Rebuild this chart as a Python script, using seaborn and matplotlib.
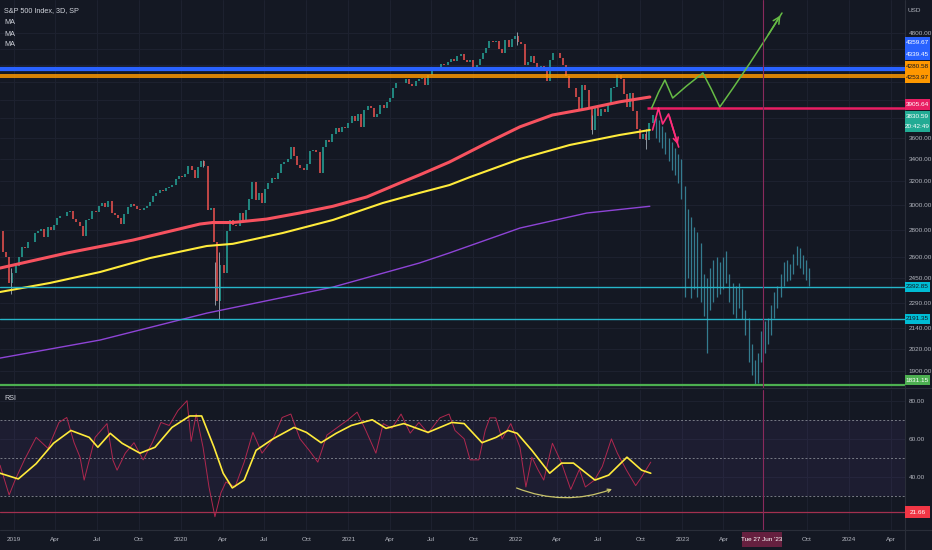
import numpy as np
import pandas as pd
import matplotlib
matplotlib.use("Agg")
import matplotlib.pyplot as plt
from matplotlib.patches import Rectangle
from matplotlib.ticker import FixedLocator, FixedFormatter, NullLocator
import seaborn as sns

# -------------------------------
# Data
# -------------------------------
# weekly closes (Fridays) from 2018-12-07 to 2022-10-28
first_open = 2790
closes_2018 = [2633, 2600, 2417, 2486]
closes_2019 = [2532, 2596, 2671, 2665, 2707, 2708, 2776, 2793, 2804, 2743, 2822, 2801, 2834,
               2893, 2907, 2905, 2940, 2946, 2881, 2860, 2826, 2752, 2873, 2887, 2950, 2942,
               2990, 3014, 2977, 3026, 2932, 2919, 2889, 2847, 2926, 2979, 3007, 2992, 2962,
               2952, 2970, 2986, 3023, 3067, 3093, 3120, 3110, 3141, 3146, 3169, 3221, 3240]
closes_2020 = [3235, 3265, 3330, 3295, 3226, 3328, 3380, 3338, 2954, 2972, 2711, 2305, 2541,
               2489, 2790, 2875, 2837, 2831, 2930, 2864, 2955, 3044, 3194, 3041, 3098, 3009,
               3130, 3185, 3225, 3216, 3271, 3351, 3373, 3397, 3508, 3427, 3341, 3319, 3298,
               3348, 3477, 3484, 3465, 3270, 3510, 3585, 3558, 3638, 3699, 3663, 3709, 3703]
closes_2021 = [3756, 3825, 3768, 3841, 3714, 3887, 3934, 3907, 3811, 3842, 3943, 3913, 3975,
               4020, 4129, 4185, 4180, 4181, 4233, 4174, 4156, 4204, 4230, 4247, 4166, 4281,
               4352, 4370, 4327, 4412, 4395, 4437, 4468, 4442, 4509, 4535, 4459, 4433, 4455,
               4357, 4391, 4471, 4545, 4605, 4697, 4683, 4698, 4595, 4538, 4712, 4620, 4725, 4766]
closes_2022 = [4677, 4663, 4398, 4432, 4501, 4419, 4349, 4385, 4329, 4204, 4463, 4543, 4546,
               4488, 4393, 4272, 4132, 4123, 4024, 3901, 4158, 4109, 3901, 3675, 3912, 3825,
               3899, 3863, 3962, 4130, 4145, 4280, 4228, 4058, 3924, 4067, 3873, 3693, 3586,
               3640, 3583, 3753, 3831]

# notable wicks
wick_dates = ["2018-12-26", "2020-02-19", "2020-03-23", "2020-03-16", "2022-01-04", "2022-06-17", "2022-10-13"]
wick_low = [2346, 3328, 2192, 2280, 4650, 3637, 3491]
wick_high = [2520, 3394, 2637, 2562, 4818, 3838, 3685]

# projected bars pattern (weekly high/low)
proj_start = "2022-11-04"
proj_high = [3800, 3780, 3720, 3660, 3600, 3560, 3500, 3450, 3400, 3160, 2960, 2900, 2820, 2780,
             2700, 2480, 2450, 2520, 2580, 2600, 2560, 2600, 2640, 2480, 2420, 2400, 2420, 2380,
             2250, 2200, 2050, 1960, 2000, 2120, 2180, 2200, 2280, 2360, 2400, 2480, 2560, 2580,
             2550, 2620, 2680, 2660, 2610, 2580, 2520]
proj_low = [3600, 3560, 3500, 3450, 3380, 3300, 3250, 3180, 3050, 2330, 2450, 2320, 2380, 2330,
            2300, 2210, 2000, 2250, 2300, 2330, 2350, 2380, 2420, 2300, 2220, 2200, 2260, 2190,
            2100, 1950, 1880, 1832, 1840, 1950, 2000, 2050, 2100, 2200, 2260, 2330, 2400, 2430,
            2440, 2480, 2540, 2520, 2480, 2440, 2400]

# moving averages
red_ma_dates = ["2018-12-01", "2019-04-26", "2019-09-18", "2020-02-11", "2020-03-10", "2020-04-23",
                "2020-07-06", "2020-09-16", "2020-11-28", "2021-02-10", "2021-04-23", "2021-06-05",
                "2021-08-10", "2021-10-31", "2022-01-11", "2022-03-23", "2022-06-06", "2022-08-17",
                "2022-10-22"]
red_ma = [2521, 2627, 2722, 2844, 2856, 2856, 2883, 2931, 2986, 3063, 3182, 3253, 3371, 3552,
          3712, 3834, 3900, 3975, 4028]
yellow_ma_dates = ["2018-12-01", "2019-03-20", "2019-07-08", "2019-10-25", "2020-02-26", "2020-04-23",
                   "2020-08-10", "2020-11-28", "2021-03-17", "2021-06-05", "2021-08-10", "2021-09-24",
                   "2022-01-11", "2022-04-30", "2022-08-17", "2022-10-22"]
yellow_ma = [2361, 2420, 2494, 2591, 2678, 2694, 2775, 2876, 3013, 3097, 3165, 3235, 3399, 3532,
             3630, 3680]
purple_ma_dates = ["2018-12-01", "2019-07-08", "2020-02-26", "2020-11-28", "2021-06-05", "2021-08-10",
                   "2022-01-11", "2022-06-06", "2022-10-22"]
purple_ma = [1970, 2070, 2228, 2393, 2556, 2628, 2813, 2931, 2986]

# horizontal levels
blue_levels = [4359.67, 4339.45]
orange_levels = [4280.58, 4253.97]
pink_level = 3905.64
pink_level_start = "2022-10-16"
cyan_levels = [2392.85, 2191.35]
green_level = 1831.15
last_price = 3830.59

# drawings
green_path_dates = ["2022-10-26", "2022-11-10", "2022-11-24", "2022-12-11", "2023-01-10", "2023-02-15",
                    "2023-03-05", "2023-03-24", "2023-04-22", "2023-05-29", "2023-07-05", "2023-08-07"]
green_path = [3908, 4080, 4220, 4017, 4150, 4302, 4120, 3919, 4128, 4421, 4748, 5070]
pink_path_dates = ["2022-10-28", "2022-11-10", "2022-11-19", "2022-12-02", "2022-12-24"]
pink_path = [3680, 3908, 3741, 3845, 3512]

# RSI
rsi_dates = ["2018-12-01", "2018-12-21", "2019-01-03", "2019-01-23", "2019-02-18", "2019-03-16",
             "2019-04-09", "2019-04-26", "2019-05-12", "2019-05-25", "2019-06-03", "2019-06-27",
             "2019-07-23", "2019-08-05", "2019-08-14", "2019-09-01", "2019-09-20", "2019-10-10",
             "2019-10-30", "2019-11-18", "2019-12-06", "2019-12-25", "2020-01-14", "2020-01-23",
             "2020-02-03", "2020-02-18", "2020-03-02", "2020-03-15", "2020-03-28", "2020-04-08",
             "2020-04-28", "2020-05-18", "2020-06-06", "2020-06-26", "2020-07-20", "2020-08-09",
             "2020-08-28", "2020-09-17", "2020-10-07", "2020-10-26", "2020-11-15", "2020-12-05",
             "2020-12-31", "2021-01-20", "2021-02-08", "2021-03-02", "2021-03-18", "2021-04-06",
             "2021-04-26", "2021-05-16", "2021-06-04", "2021-06-24", "2021-07-20", "2021-08-09",
             "2021-08-22", "2021-09-11", "2021-09-24", "2021-10-13", "2021-10-27", "2021-11-06",
             "2021-11-19", "2021-12-03", "2021-12-22", "2022-01-11", "2022-01-24", "2022-02-06",
             "2022-02-19", "2022-03-04", "2022-03-23", "2022-04-12", "2022-05-02", "2022-05-21",
             "2022-06-03", "2022-06-23", "2022-07-10", "2022-07-30", "2022-08-12", "2022-09-01",
             "2022-09-21", "2022-10-04", "2022-10-24"]
rsi_vals = [46.2, 30.6, 38.4, 48.8, 60.8, 55, 68.6, 71.2, 58, 50.4, 38.4, 60.8, 68, 48.8, 43.6,
            52.5, 58, 49, 58, 68.6, 67, 74.8, 80, 58.7, 73, 55.6, 34.8, 19.2, 31.7, 37.4, 34.8,
            47.8, 63.4, 52.5, 60, 71.2, 73, 60, 54, 47.8, 62, 65.5, 70, 74, 64.4, 52.5, 68, 65.5,
            73, 63, 68.6, 63, 71, 73, 64.4, 60, 49, 49, 64.4, 71, 71, 60, 68, 55.6, 34.8, 50.4,
            44, 38.4, 57.7, 47.3, 33.5, 44, 34.8, 38.4, 45.5, 60, 52.5, 43.6, 35.5, 40, 47.8]
rsi_ma_dates = ["2018-12-01", "2019-01-10", "2019-02-18", "2019-03-28", "2019-05-05", "2019-06-14",
                "2019-07-03", "2019-07-30", "2019-08-25", "2019-10-03", "2019-11-05", "2019-12-12",
                "2020-01-20", "2020-02-15", "2020-03-13", "2020-04-02", "2020-04-22", "2020-05-18",
                "2020-06-13", "2020-07-20", "2020-09-04", "2020-10-01", "2020-11-02", "2020-12-05",
                "2021-01-07", "2021-02-22", "2021-03-24", "2021-05-02", "2021-06-24", "2021-08-15",
                "2021-09-11", "2021-10-20", "2021-11-20", "2021-12-16", "2022-01-05", "2022-02-06",
                "2022-03-17", "2022-04-12", "2022-05-08", "2022-06-24", "2022-07-24", "2022-09-02",
                "2022-10-04", "2022-10-24"]
rsi_ma = [42, 39, 47, 57.7, 64.4, 60.8, 55.6, 62.9, 57.7, 52.5, 55.6, 66, 72, 72, 55.6, 42, 34.3,
          38.4, 54, 60, 66, 63.4, 58, 62.9, 67, 70, 65.5, 68, 63.4, 68.6, 68, 58, 60.8, 64.4, 62.9,
          54, 42, 47.3, 47.3, 38.4, 41, 50.4, 43.6, 42]
rsi_arc_dates = ["2021-12-29", "2022-08-06"]
rsi_arc = [34.8, 34.2]
rsi_low_level = 21.66

cursor_date = "2023-06-27"
tick_dates = ["2019-01-01", "2019-04-01", "2019-07-01", "2019-10-01", "2020-01-01", "2020-04-01",
              "2020-07-01", "2020-10-01", "2021-01-01", "2021-04-01", "2021-07-01", "2021-10-01",
              "2022-01-01", "2022-04-01", "2022-07-01", "2022-10-01", "2023-01-01", "2023-04-01",
              "2023-10-01", "2024-01-01", "2024-04-01"]
tick_labels = ["2019", "Apr", "Jul", "Oct", "2020", "Apr", "Jul", "Oct", "2021", "Apr", "Jul", "Oct",
               "2022", "Apr", "Jul", "Oct", "2023", "Apr", "Oct", "2024", "Apr"]
price_ticks = [4800, 4600, 4400, 4200, 4000, 3800, 3600, 3400, 3200, 3000, 2800, 2600, 2450,
               2290, 2140, 2020, 1900]
price_tick_labels = ["4800.00", "", "", "", "", "", "3600.00", "3400.00", "3200.00", "3000.00",
                     "2800.00", "2600.00", "2450.00", "2290.00", "2140.00", "2020.00", "1900.00"]

# -------------------------------
# Style
# -------------------------------
BG = "#141823"
GRID = "#1e2230"
TXT = "#b2b5be"
UP = "#26a69a"
DOWN = "#ef5350"
FS = 4.6

sns.set_theme(style="dark")
plt.rcParams["font.family"] = ["Liberation Sans", "DejaVu Sans"]
plt.rcParams["axes.facecolor"] = BG
plt.rcParams["figure.facecolor"] = BG

W, H = 932, 550
fig = plt.figure(figsize=(W / 100, H / 100), dpi=100)
ax = fig.add_axes([0, 1 - 388 / H, 905 / W, 388 / H])
rax = fig.add_axes([0, 1 - 530 / H, 905 / W, 140 / H], sharex=ax)

xmin, xmax = pd.Timestamp("2018-12-01"), pd.Timestamp("2024-05-02")
tdates = pd.to_datetime(tick_dates)

for a in (ax, rax):
    a.set_facecolor(BG)
    for s in a.spines.values():
        s.set_visible(False)
    a.set_xticks(tdates)
    a.grid(True, axis="x", color=GRID, lw=0.7)
    a.yaxis.tick_right()
    a.tick_params(length=0, labelsize=FS, colors=TXT, pad=2.5)

# -------------------------------
# Main pane
# -------------------------------
ax.set_yscale("log")
ax.set_ylim(1815, 5254)
ax.set_xlim(xmin, xmax)
ax.yaxis.set_major_locator(FixedLocator(price_ticks))
ax.yaxis.set_major_formatter(FixedFormatter(price_tick_labels))
ax.yaxis.set_minor_locator(NullLocator())
for p in price_ticks:
    ax.axhline(p, color=GRID, lw=0.7, zorder=0)

closes = closes_2018 + closes_2019 + closes_2020 + closes_2021 + closes_2022
cdates = pd.date_range("2018-12-07", periods=len(closes), freq="W-FRI")
candles = pd.DataFrame({"date": cdates, "close": closes})
candles["open"] = [first_open] + closes[:-1]
candles["up"] = candles["close"] >= candles["open"]
lo = candles[["open", "close"]].min(axis=1)
hi = candles[["open", "close"]].max(axis=1)
ax.vlines(candles["date"], lo, hi, colors=np.where(candles["up"], UP, DOWN), lw=1.3, alpha=0.85, zorder=3)
ax.vlines(pd.to_datetime(wick_dates), wick_low, wick_high, colors="#8f9aa3", lw=0.7, zorder=3)

pdates = pd.date_range(proj_start, periods=len(proj_high), freq="7D")
ax.vlines(pdates, proj_low, proj_high, colors="#3a8ea3", lw=0.9, alpha=0.85, zorder=3)

sns.lineplot(x=pd.to_datetime(purple_ma_dates), y=purple_ma, ax=ax, color="#8e44d6", lw=1.0, zorder=4)
sns.lineplot(x=pd.to_datetime(yellow_ma_dates), y=yellow_ma, ax=ax, color="#ffeb3b", lw=1.5, zorder=4)
sns.lineplot(x=pd.to_datetime(red_ma_dates), y=red_ma, ax=ax, color="#f7525f", lw=2.2, zorder=4)

for lv in blue_levels:
    ax.axhline(lv, color="#2962ff", lw=1.6, zorder=5)
for lv in orange_levels:
    ax.axhline(lv, color="#ff9800", lw=1.2, zorder=5)
for lv in cyan_levels:
    ax.axhline(lv, color="#26b6c9", lw=1.0, zorder=5)
ax.axhline(green_level, color="#4caf50", lw=1.6, zorder=5)
ax.hlines(pink_level, pd.Timestamp(pink_level_start), xmax, color="#e91e63", lw=1.8, zorder=5)

gd = pd.to_datetime(green_path_dates)
sns.lineplot(x=gd, y=green_path, ax=ax, sort=False, color="#66bb45", lw=1.1, zorder=6)
ax.annotate("", xy=(gd[-1], green_path[-1]), xytext=(gd[-2], green_path[-2]),
            arrowprops=dict(arrowstyle="->", color="#66bb45", lw=1.1, mutation_scale=12), zorder=6)
pd_ = pd.to_datetime(pink_path_dates)
sns.lineplot(x=pd_, y=pink_path, ax=ax, sort=False, color="#ff2d7a", lw=1.2, zorder=6)
ax.annotate("", xy=(pd_[-1], pink_path[-1]), xytext=(pd_[-2], pink_path[-2]),
            arrowprops=dict(arrowstyle="->", color="#ff2d7a", lw=1.2, mutation_scale=9), zorder=6)

ax.axvline(pd.Timestamp(cursor_date), color="#8a2a5c", lw=0.8, zorder=7)
ax.tick_params(axis="x", labelbottom=False)

# -------------------------------
# RSI pane
# -------------------------------
rax.set_ylim(12.25, 85.6)
rax.set_yticks([80, 60, 40])
rax.set_yticklabels(["80.00", "60.00", "40.00"])
for v in (80, 60, 40):
    rax.axhline(v, color=GRID, lw=0.7, zorder=0)
rax.axhspan(30, 70, color="#7e57c2", alpha=0.09, lw=0, zorder=1)
for v in (70, 50, 30):
    rax.axhline(v, color="#787b86", lw=0.7, ls=(0, (2, 2)), zorder=2)
rax.axhline(rsi_low_level, color="#a3304f", lw=0.9, zorder=2)
sns.lineplot(x=pd.to_datetime(rsi_dates), y=rsi_vals, ax=rax, color="#b0284f", lw=0.7, zorder=3)
sns.lineplot(x=pd.to_datetime(rsi_ma_dates), y=rsi_ma, ax=rax, color="#ffeb3b", lw=1.2, zorder=4)
ad = pd.to_datetime(rsi_arc_dates)
rax.annotate("", xy=(ad[1], rsi_arc[1]), xytext=(ad[0], rsi_arc[0]),
             arrowprops=dict(arrowstyle="->", color="#c9c46a", lw=0.9, mutation_scale=6,
                             connectionstyle="arc3,rad=0.2"), zorder=5)
rax.axvline(pd.Timestamp(cursor_date), color="#8a2a5c", lw=0.8, zorder=7)
rax.set_xticks(tdates)
rax.set_xticklabels(tick_labels)
rax.tick_params(axis="x", pad=5)
rax.set_xlim(xmin, xmax)

for a in (ax, rax):
    a.xaxis.label.set_visible(False)
    a.yaxis.label.set_visible(False)

# pane borders
fig.add_artist(plt.Line2D([0, 1], [1 - 388 / H, 1 - 388 / H], color="#2a2e39", lw=0.8, transform=fig.transFigure))
fig.add_artist(plt.Line2D([0, 1], [1 - 530 / H, 1 - 530 / H], color="#2a2e39", lw=0.8, transform=fig.transFigure))
fig.add_artist(plt.Line2D([905 / W, 905 / W], [0, 1], color="#2a2e39", lw=0.8, transform=fig.transFigure))


# -------------------------------
# Price tags and titles
# -------------------------------
def tag(y0, y1, lines, fc, tc, x0=905, w=25):
    fig.add_artist(Rectangle((x0 / W, 1 - y1 / H), w / W, (y1 - y0) / H, transform=fig.transFigure,
                             fc=fc, ec="none", zorder=10))
    step = (y1 - y0) / len(lines)
    for i, t in enumerate(lines):
        fig.text((x0 + w / 2) / W, 1 - (y0 + step * (i + 0.5)) / H, t, color=tc, fontsize=FS,
                 ha="center", va="center", zorder=11)


tag(37, 60, ["%.2f" % v for v in blue_levels], "#2962ff", "white")
tag(61, 83, ["%.2f" % v for v in orange_levels], "#ff9800", "#131722")
tag(99, 110, ["%.2f" % pink_level], "#e91e63", "white")
tag(111, 132, ["%.2f" % last_price, "20:42:49"], "#22ab94", "white")
tag(282, 292, ["%.2f" % cyan_levels[0]], "#00bcd4", "#131722")
tag(314, 324, ["%.2f" % cyan_levels[1]], "#00bcd4", "#131722")
tag(375, 385, ["%.2f" % green_level], "#4caf50", "white")
tag(506, 518, ["%.2f" % rsi_low_level], "#f23645", "white")
tag(532, 547, ["Tue 27 Jun '23"], "#66203f", "white", x0=742, w=40)

fig.text(908 / W, 1 - 10 / H, "USD", color=TXT, fontsize=FS, va="center")
fig.text(4 / W, 1 - 11 / H, "S&P 500 Index, 3D, SP", color="#d1d4dc", fontsize=5.2, va="center")
for yy in (22.5, 34, 45):
    fig.text(4 / W, 1 - yy / H, "MA", color="#d1d4dc", fontsize=5.2, va="center")
fig.text(4 / W, 1 - 398 / H, "RSI", color="#d1d4dc", fontsize=5.2, va="center")

plt.savefig("out.png", dpi=100, facecolor=BG)
